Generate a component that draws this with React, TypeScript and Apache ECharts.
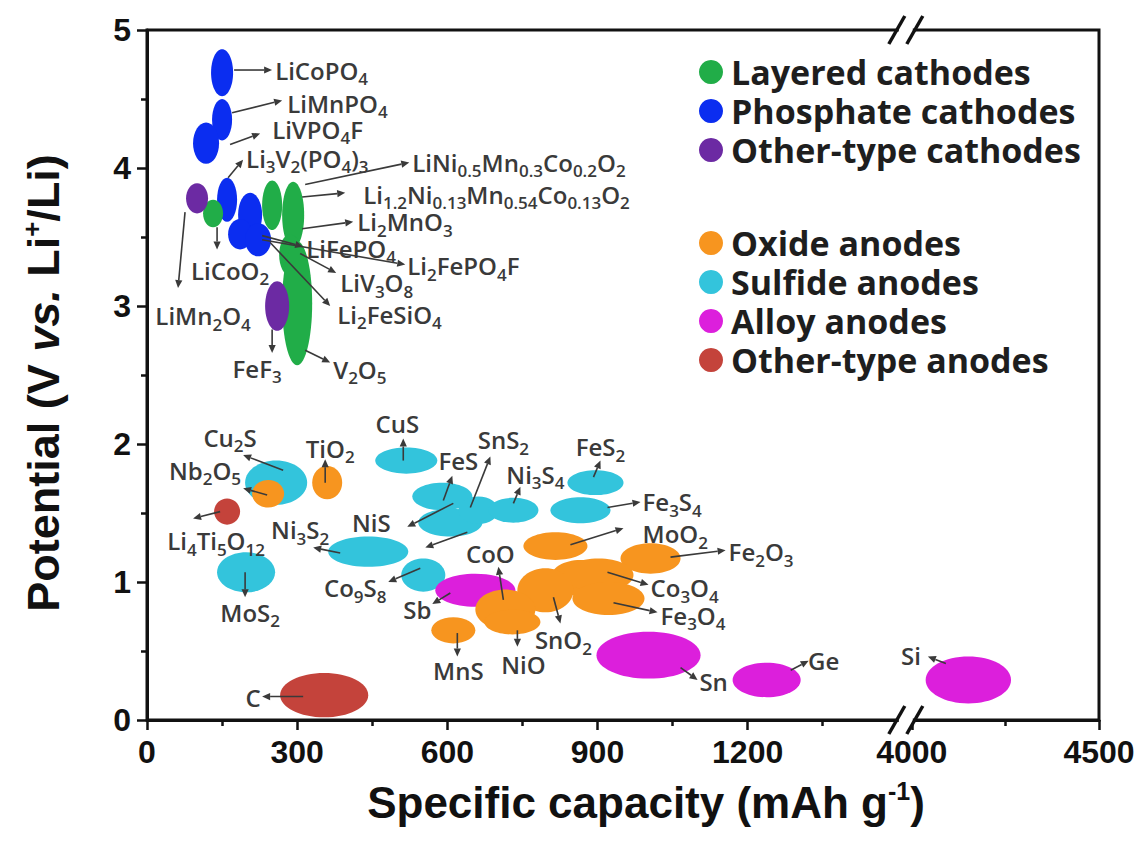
import React, { useEffect, useRef } from "react";
import * as echarts from "echarts";

// ---- broken x axis: lower segment 0..1520 is linear, upper segment 4000..4500 is compressed ----
const UPPER_START = 4000;
const UPPER_U = 1528;
const UPPER_SCALE = 0.748;
const AXIS_MAX_U = 1902;
const BREAK_U = 1516;
const T = (c: number) => (c > 2000 ? UPPER_U + (c - UPPER_START) * UPPER_SCALE : c);

const xTickValues = [0, 300, 600, 900, 1200, 4000, 4500];
const xMinorTickValues = [150, 450, 750, 1050, 1350, 4250];

// [capacity mAh/g, potential V, half-range capacity, half-range potential]
const layeredCathodes = [
  [132, 3.67, 20, 0.1],
  [250, 3.73, 20, 0.18],
  [292, 3.66, 22, 0.24],
  [286, 3.37, 22, 0.15],
  [300, 3.02, 30, 0.45],
];
const phosphateCathodes = [
  [150, 4.69, 22, 0.17],
  [150, 4.35, 20, 0.15],
  [118, 4.18, 26, 0.15],
  [160, 3.77, 20, 0.16],
  [206, 3.66, 24, 0.16],
  [186, 3.52, 24, 0.11],
  [222, 3.48, 26, 0.12],
];
const otherCathodes = [
  [100, 3.78, 22, 0.11],
  [260, 3.0, 24, 0.18],
];
const oxideAnodes = [
  [242, 1.64, 32, 0.1],
  [360, 1.72, 30, 0.12],
  [612, 0.65, 44, 0.095],
  [816, 1.26, 64, 0.1],
  [1006, 1.17, 60, 0.11],
  [866, 1.03, 60, 0.13],
  [902, 1.05, 70, 0.12],
  [922, 0.88, 72, 0.12],
  [796, 0.94, 56, 0.16],
  [716, 0.8, 60, 0.145],
  [730, 0.71, 56, 0.09],
];
const sulfideAnodes = [
  [258, 1.72, 62, 0.16],
  [198, 1.07, 58, 0.145],
  [442, 1.22, 80, 0.11],
  [518, 1.88, 62, 0.095],
  [552, 1.05, 44, 0.12],
  [590, 1.62, 60, 0.1],
  [606, 1.43, 64, 0.1],
  [662, 1.52, 40, 0.1],
  [732, 1.52, 50, 0.09],
  [896, 1.72, 56, 0.09],
  [866, 1.52, 60, 0.095],
];
const alloyAnodes = [
  [656, 0.94, 80, 0.12],
  [1002, 0.47, 104, 0.17],
  [1238, 0.29, 68, 0.125],
  [4151, 0.29, 114, 0.17],
];
const otherAnodes = [
  [160, 1.51, 26, 0.095],
  [354, 0.18, 88, 0.16],
];

const categoryNames = [
  "Layered cathodes",
  "Phosphate cathodes",
  "Other-type cathodes",
  "Oxide anodes",
  "Sulfide anodes",
  "Alloy anodes",
  "Other-type anodes",
];
const categoryColors = ["#21ad48", "#0b2df0", "#6c2aa3", "#f7951f", "#33c4dc", "#dc1fdc", "#c4433b"];
const categoryData = [
  layeredCathodes,
  phosphateCathodes,
  otherCathodes,
  oxideAnodes,
  sulfideAnodes,
  alloyAnodes,
  otherAnodes,
];
// drawing order (later on top)
const drawOrder = [1, 0, 2, 4, 5, 3, 6];

// annotation labels: [text, capacity, potential, align]
const labels: [string, number, number, string][] = [
  ["LiCoPO_{4}", 256, 4.71, "left"],
  ["LiMnPO_{4}", 280, 4.47, "left"],
  ["LiVPO_{4}F", 250, 4.28, "left"],
  ["Li_{3}V_{2}(PO_{4})_{3}", 198, 4.07, "left"],
  ["LiNi_{0.5}Mn_{0.3}Co_{0.2}O_{2}", 530, 4.04, "left"],
  ["Li_{1.2}Ni_{0.13}Mn_{0.54}Co_{0.13}O_{2}", 432, 3.81, "left"],
  ["Li_{2}MnO_{3}", 420, 3.61, "left"],
  ["LiFePO_{4}", 318, 3.42, "left"],
  ["Li_{2}FePO_{4}F", 520, 3.29, "left"],
  ["LiV_{3}O_{8}", 386, 3.17, "left"],
  ["Li_{2}FeSiO_{4}", 380, 2.94, "left"],
  ["LiCoO_{2}", 166, 3.26, "center"],
  ["LiMn_{2}O_{4}", 112, 2.93, "center"],
  ["FeF_{3}", 220, 2.55, "center"],
  ["V_{2}O_{5}", 372, 2.54, "left"],
  ["Cu_{2}S", 166, 2.05, "center"],
  ["Nb_{2}O_{5}", 116, 1.81, "center"],
  ["TiO_{2}", 366, 1.97, "center"],
  ["CuS", 500, 2.15, "center"],
  ["FeS", 622, 1.88, "center"],
  ["SnS_{2}", 712, 2.03, "center"],
  ["Ni_{3}S_{4}", 776, 1.78, "center"],
  ["FeS_{2}", 906, 1.98, "center"],
  ["Fe_{3}S_{4}", 990, 1.58, "left"],
  ["MoO_{2}", 990, 1.35, "left"],
  ["Fe_{2}O_{3}", 1162, 1.22, "left"],
  ["Co_{3}O_{4}", 1006, 0.96, "left"],
  ["Fe_{3}O_{4}", 1026, 0.76, "left"],
  ["CoO", 686, 1.21, "center"],
  ["SnO_{2}", 832, 0.58, "center"],
  ["NiO", 752, 0.4, "center"],
  ["MnS", 622, 0.36, "center"],
  ["Sb", 540, 0.8, "center"],
  ["Co_{9}S_{8}", 416, 0.96, "center"],
  ["NiS", 448, 1.43, "center"],
  ["Ni_{3}S_{2}", 306, 1.38, "center"],
  ["Li_{4}Ti_{5}O_{12}", 138, 1.3, "center"],
  ["MoS_{2}", 206, 0.78, "center"],
  ["C", 212, 0.16, "center"],
  ["Sn", 1132, 0.28, "center"],
  ["Ge", 1352, 0.43, "center"],
  ["Si", 3998, 0.47, "center"],
];

// arrows: [fromCapacity, fromPotential, toCapacity, toPotential]
const arrows = [
  [174, 4.71, 250, 4.71],
  [170, 4.4, 270, 4.49],
  [166, 4.17, 226, 4.25],
  [162, 3.93, 192, 4.06],
  [316, 3.88, 524, 4.04],
  [310, 3.79, 396, 3.82],
  [310, 3.56, 412, 3.61],
  [230, 3.51, 312, 3.43],
  [230, 3.48, 516, 3.3],
  [306, 3.38, 378, 3.24],
  [246, 3.46, 366, 3.0],
  [140, 3.57, 140, 3.41],
  [76, 3.68, 62, 3.13],
  [250, 2.83, 250, 2.66],
  [316, 2.68, 366, 2.59],
  [272, 1.81, 192, 1.92],
  [240, 1.63, 192, 1.68],
  [356, 1.72, 356, 1.89],
  [512, 1.88, 512, 2.04],
  [592, 1.59, 610, 1.77],
  [646, 1.54, 686, 1.91],
  [732, 1.57, 746, 1.69],
  [892, 1.76, 906, 1.88],
  [920, 1.54, 986, 1.58],
  [846, 1.27, 952, 1.39],
  [1046, 1.18, 1156, 1.23],
  [920, 1.07, 1002, 0.98],
  [932, 0.85, 1020, 0.78],
  [712, 0.87, 702, 1.11],
  [812, 0.89, 826, 0.7],
  [740, 0.65, 740, 0.53],
  [620, 0.63, 620, 0.46],
  [606, 0.92, 570, 0.84],
  [546, 1.1, 482, 1.0],
  [612, 1.57, 520, 1.4],
  [640, 1.36, 556, 1.25],
  [386, 1.21, 332, 1.25],
  [146, 1.51, 92, 1.46],
  [196, 1.07, 196, 0.89],
  [312, 0.17, 230, 0.17],
  [1066, 0.38, 1100, 0.29],
  [1286, 0.36, 1322, 0.43],
  [4091, 0.41, 4043, 0.46],
];

const LABEL_FONT = "'Open Sans', Lato, sans-serif";
const AXIS_FONT = "'Liberation Sans', Arial, sans-serif";
const TEXT_COLOR = "#3a3a3a";
const LABEL_SIZE = 24;
const SUB_SIZE = 17;
const LABEL_LH = 34;

function toRich(s: string) {
  const out: string[] = [];
  const re = /([_^])\{([^}]*)\}/g;
  let last = 0;
  let m: RegExpExecArray | null;
  while ((m = re.exec(s))) {
    if (m.index > last) out.push(`{n|${s.slice(last, m.index)}}`);
    out.push(`{${m[1] === "_" ? "s" : "p"}|${m[2]}}`);
    last = m.index + m[0].length;
  }
  if (last < s.length) out.push(`{n|${s.slice(last)}}`);
  return out.join("");
}

const labelRich = {
  n: { fontSize: LABEL_SIZE, lineHeight: LABEL_LH, verticalAlign: "middle", fontFamily: LABEL_FONT, fontWeight: 600, fill: TEXT_COLOR, color: TEXT_COLOR },
  s: { fontSize: SUB_SIZE, lineHeight: SUB_SIZE, verticalAlign: "bottom", fontFamily: LABEL_FONT, fontWeight: 600, fill: TEXT_COLOR, color: TEXT_COLOR },
  p: { fontSize: SUB_SIZE, lineHeight: SUB_SIZE, verticalAlign: "top", fontFamily: LABEL_FONT, fontWeight: 600, fill: TEXT_COLOR, color: TEXT_COLOR },
};

export default function App() {
  const ref = useRef<HTMLDivElement>(null);
  useEffect(() => {
    if (!ref.current) return;
    const chart = echarts.init(ref.current, undefined, { renderer: "svg" });

    const ellipseSeries = drawOrder.map((ci) => ({
      type: "custom",
      name: categoryNames[ci],
      coordinateSystem: "cartesian2d",
      xAxisIndex: 0,
      yAxisIndex: 0,
      clip: false,
      z: 2,
      itemStyle: { color: categoryColors[ci] },
      encode: { x: 0, y: 1 },
      data: categoryData[ci].map((d) => [T(d[0]), d[1], d[0], d[2], d[3]]),
      renderItem: (params: any, api: any) => {
        const c = api.value(2);
        const v = api.value(1);
        const dc = api.value(3);
        const dv = api.value(4);
        const p1 = api.coord([T(c - dc), v + dv]);
        const p2 = api.coord([T(c + dc), v - dv]);
        return {
          type: "ellipse",
          shape: {
            cx: (p1[0] + p2[0]) / 2,
            cy: (p1[1] + p2[1]) / 2,
            rx: Math.abs(p2[0] - p1[0]) / 2,
            ry: Math.abs(p2[1] - p1[1]) / 2,
          },
          style: { fill: categoryColors[ci] },
        };
      },
    }));

    const arrowSeries = {
      type: "custom",
      name: "arrows",
      coordinateSystem: "cartesian2d",
      clip: false,
      z: 5,
      silent: true,
      encode: { x: 0, y: 1 },
      data: arrows.map((a) => [T(a[2]), a[3], T(a[0]), a[1]]),
      renderItem: (params: any, api: any) => {
        const a = arrows[params.dataIndex];
        const p1 = api.coord([T(a[0]), a[1]]);
        const p2 = api.coord([T(a[2]), a[3]]);
        const ang = Math.atan2(p2[1] - p1[1], p2[0] - p1[0]);
        const cos = Math.cos(ang);
        const sin = Math.sin(ang);
        const L = 8;
        const W = 3.6;
        const bx = p2[0] - L * cos;
        const by = p2[1] - L * sin;
        return {
          type: "group",
          children: [
            {
              type: "line",
              shape: { x1: p1[0], y1: p1[1], x2: bx, y2: by },
              style: { stroke: "#3a3a3a", lineWidth: 1.6 },
            },
            {
              type: "polygon",
              shape: {
                points: [
                  [p2[0], p2[1]],
                  [bx - W * sin, by + W * cos],
                  [bx + W * sin, by - W * cos],
                ],
              },
              style: { fill: "#3a3a3a" },
            },
          ],
        };
      },
    };

    const labelSeries = {
      type: "custom",
      name: "labels",
      coordinateSystem: "cartesian2d",
      clip: false,
      z: 6,
      silent: true,
      encode: { x: 0, y: 1 },
      data: labels.map((l) => [T(l[1]), l[2]]),
      renderItem: (params: any, api: any) => {
        const l = labels[params.dataIndex];
        const p = api.coord([T(l[1]), l[2]]);
        return {
          type: "text",
          x: p[0],
          y: p[1],
          style: {
            text: toRich(l[0]),
            rich: labelRich,
            align: l[3],
            verticalAlign: "middle",
            fill: TEXT_COLOR,
            fontFamily: LABEL_FONT,
            fontSize: LABEL_SIZE,
            fontWeight: 600,
            lineHeight: LABEL_LH,
          },
        };
      },
    };

    const legendCommon = {
      orient: "vertical",
      left: 699,
      padding: 0,
      itemWidth: 24,
      itemHeight: 24,
      itemGap: 5,
      selectedMode: false,
      textStyle: {
        fontFamily: "'Open Sans', sans-serif",
        fontWeight: "bold",
        fontSize: 34,
        color: "#1e1e1e",
        padding: [0, 0, 0, 3],
      },
    };

    const tickLabelMap: Record<string, string> = {};
    xTickValues.forEach((v) => {
      tickLabelMap[String(Math.round(T(v) * 1000) / 1000)] = String(v);
    });

    const option: any = {
      animation: false,
      backgroundColor: "#ffffff",
      grid: {
        left: 147,
        right: 46,
        top: 30,
        bottom: 131,
        show: true,
        borderColor: "#111",
        borderWidth: 3,
        outerBoundsMode: "none",
        containLabel: false,
      },
      legend: [
        {
          ...legendCommon,
          top: 55,
          data: categoryNames.slice(0, 3).map((n, i) => ({ name: n, icon: "circle", itemStyle: { color: categoryColors[i] } })),
        },
        {
          ...legendCommon,
          top: 226,
          data: categoryNames.slice(3).map((n, i) => ({ name: n, icon: "circle", itemStyle: { color: categoryColors[i + 3] } })),
        },
      ],
      xAxis: [
        {
          type: "value",
          min: 0,
          max: AXIS_MAX_U,
          position: "bottom",
          axisLine: { show: true, onZero: false, lineStyle: { color: "#111", width: 3 } },
          axisTick: {
            show: true,
            customValues: xTickValues.map(T),
            length: 10,
            lineStyle: { color: "#111", width: 2.5 },
          },
          axisLabel: {
            customValues: xTickValues.map(T),
            formatter: (v: number) => tickLabelMap[String(Math.round(v * 1000) / 1000)] ?? "",
            fontFamily: AXIS_FONT,
            fontWeight: "bold",
            fontSize: 32,
            color: "#111",
            margin: 16,
          },
          splitLine: { show: false },
          name: "{b|Specific capacity (mAh g}{p|-1}{b|)}",
          nameLocation: "middle",
          nameGap: 58,
          nameTextStyle: {
            padding: [0, 0, 0, 46],
            rich: {
              b: { fontFamily: AXIS_FONT, fontWeight: "bold", fontSize: 44, lineHeight: 48, color: "#111", verticalAlign: "middle" },
              p: { fontFamily: AXIS_FONT, fontWeight: "bold", fontSize: 25, lineHeight: 25, color: "#111", verticalAlign: "top" },
            },
          },
        },
        {
          type: "value",
          min: 0,
          max: AXIS_MAX_U,
          position: "bottom",
          axisLine: { show: false },
          axisTick: {
            show: true,
            customValues: xMinorTickValues.map(T),
            length: 6,
            lineStyle: { color: "#111", width: 2.5 },
          },
          axisLabel: { show: false },
          splitLine: { show: false },
        },
      ],
      yAxis: {
        type: "value",
        min: 0,
        max: 5,
        interval: 1,
        axisLine: { show: true, lineStyle: { color: "#111", width: 3 } },
        axisTick: { show: true, length: 10, lineStyle: { color: "#111", width: 2.5 } },
        minorTick: { show: true, splitNumber: 2, length: 6, lineStyle: { color: "#111", width: 2.5 } },
        axisLabel: {
          fontFamily: AXIS_FONT,
          fontWeight: "bold",
          fontSize: 32,
          color: "#111",
          margin: 16,
        },
        splitLine: { show: false },
        minorSplitLine: { show: false },
        name: "{b|Potential (V }{i|vs.}{b| Li}{p|+}{b|/Li)}",
        nameLocation: "middle",
        nameRotate: 90,
        nameGap: 80,
        nameTextStyle: {
          padding: [0, 16, 0, 0],
          rich: {
            b: { fontFamily: AXIS_FONT, fontWeight: "bold", fontSize: 45, lineHeight: 48, color: "#111", verticalAlign: "middle" },
            i: { fontFamily: AXIS_FONT, fontWeight: "bold", fontStyle: "italic", fontSize: 45, lineHeight: 48, color: "#111", verticalAlign: "middle" },
            p: { fontFamily: AXIS_FONT, fontWeight: "bold", fontSize: 26, lineHeight: 26, color: "#111", verticalAlign: "top" },
          },
        },
      },
      series: [...ellipseSeries, arrowSeries, labelSeries],
    };

    chart.setOption(option);

    const bx = chart.convertToPixel({ xAxisIndex: 0 }, BREAK_U) as unknown as number;
    const yTop = chart.convertToPixel({ yAxisIndex: 0 }, 5) as unknown as number;
    const yBot = chart.convertToPixel({ yAxisIndex: 0 }, 0) as unknown as number;
    const breakMarks = (y: number) => [
      { type: "rect", shape: { x: bx - 7, y: y - 5, width: 14, height: 10 }, style: { fill: "#fff" }, z: 100 },
      { type: "line", shape: { x1: bx - 17, y1: y + 14, x2: bx - 1, y2: y - 14 }, style: { stroke: "#111", lineWidth: 3.5 }, z: 101 },
      { type: "line", shape: { x1: bx + 1, y1: y + 14, x2: bx + 17, y2: y - 14 }, style: { stroke: "#111", lineWidth: 3.5 }, z: 101 },
    ];
    chart.setOption({ graphic: [...breakMarks(yTop), ...breakMarks(yBot)] });

    return () => chart.dispose();
  }, []);

  return <div ref={ref} style={{ position: "fixed", left: 0, top: 0, width: 1145, height: 851, background: "#fff" }} />;
}
